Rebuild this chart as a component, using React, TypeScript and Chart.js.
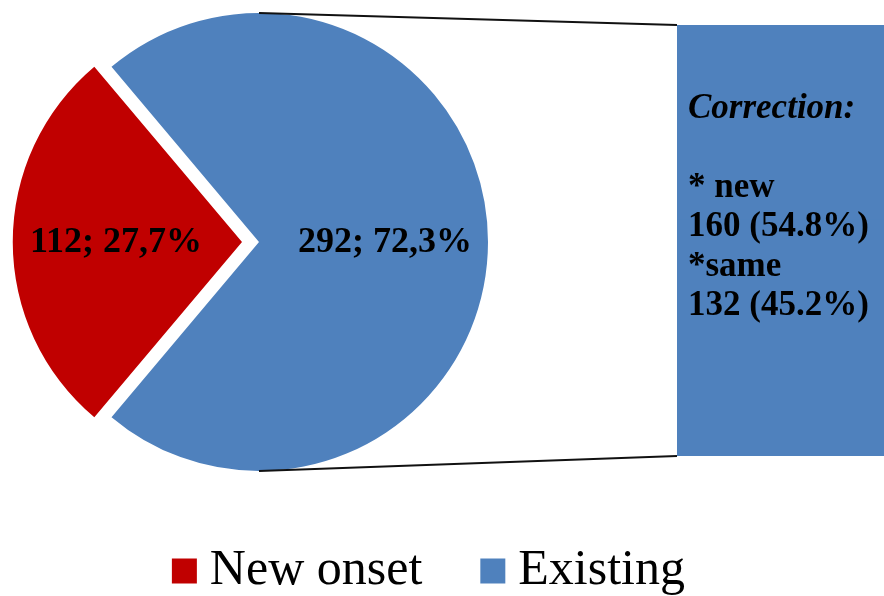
import React, { useEffect, useRef } from 'react';
import { Chart, registerables } from 'chart.js';

Chart.register(...registerables);

// ---- data ----
const categories = ['New onset', 'Existing'];
const counts = [112, 292];
const sliceColors = ['#C00000', '#4F81BD'];
const sliceOffsets = [68, 0];

const correctionTitle = 'Correction:';
const correctionLabels = ['* new', '*same'];
const correctionCounts = [160, 132];

const FONT = "'Liberation Serif', 'Times New Roman', Times, serif";

const total = counts.reduce((a, b) => a + b, 0);
const correctionTotal = correctionCounts.reduce((a, b) => a + b, 0);
const pct = (v: number, t: number, sep: string) => (v / t * 100).toFixed(1).replace('.', sep);

export default function App() {
  const pieRef = useRef<HTMLCanvasElement>(null);
  const barRef = useRef<HTMLCanvasElement>(null);

  useEffect(() => {
    const barTextPlugin = {
      id: 'barText',
      afterDatasetsDraw(chart: any) {
        const { ctx, chartArea } = chart;
        const x = chartArea.left + 11;
        let y = chartArea.top + 93;
        const lh = 39.4;
        const lines: { text: string; italic?: boolean }[] = [
          { text: correctionTitle, italic: true },
          { text: '' },
        ];
        correctionLabels.forEach((l, i) => {
          lines.push({ text: l });
          lines.push({ text: `${correctionCounts[i]} (${pct(correctionCounts[i], correctionTotal, '.')}%)` });
        });
        ctx.save();
        ctx.fillStyle = '#000';
        ctx.textAlign = 'left';
        ctx.textBaseline = 'alphabetic';
        lines.forEach((ln) => {
          ctx.font = `${ln.italic ? 'italic ' : ''}bold 35px ${FONT}`;
          if (ln.text) ctx.fillText(ln.text, x, y);
          y += lh;
        });
        ctx.restore();
      },
    };

    const barChart = new Chart(barRef.current as HTMLCanvasElement, {
      type: 'bar',
      data: {
        labels: [categories[1]],
        datasets: correctionLabels.map((l, i) => ({
          label: l,
          data: [correctionCounts[i]],
          backgroundColor: sliceColors[1],
          borderWidth: 0,
          barPercentage: 1,
          categoryPercentage: 1,
        })),
      },
      options: {
        responsive: false,
        animation: false,
        events: [],
        layout: { padding: 0 },
        plugins: { legend: { display: false }, tooltip: { enabled: false } },
        scales: {
          x: { stacked: true, display: false },
          y: { stacked: true, display: false, min: 0, max: correctionTotal },
        },
      },
      plugins: [barTextPlugin],
    } as any);

    const pieLabelPlugin = {
      id: 'pieLabels',
      afterDatasetsDraw(chart: any) {
        const ctx = chart.ctx;
        const meta = chart.getDatasetMeta(0);
        ctx.save();
        ctx.font = `bold 36px ${FONT}`;
        ctx.fillStyle = '#000';
        ctx.textAlign = 'center';
        ctx.textBaseline = 'middle';
        meta.data.forEach((arc: any, i: number) => {
          const mid = (arc.startAngle + arc.endAngle) / 2;
          const r = (arc.options.offset || 0) / 4 + 0.55 * arc.outerRadius;
          ctx.fillText(
            `${counts[i]}; ${pct(counts[i], total, ',')}%`,
            arc.x + Math.cos(mid) * r,
            arc.y + Math.sin(mid) * r + 1
          );
        });
        ctx.restore();
      },
    };

    const connectorPlugin = {
      id: 'connectors',
      afterDatasetsDraw(chart: any) {
        const ctx = chart.ctx;
        const arc: any = chart.getDatasetMeta(0).data[1];
        const pr = chart.canvas.getBoundingClientRect();
        const br = barChart.canvas.getBoundingClientRect();
        const dx = br.left - pr.left;
        const dy = br.top - pr.top;
        const topEl: any = barChart.getDatasetMeta(correctionCounts.length - 1).data[0];
        const botEl: any = barChart.getDatasetMeta(0).data[0];
        const left = topEl.x - topEl.width / 2 + dx;
        const top = topEl.y + dy;
        const bottom = botEl.base + dy;
        ctx.save();
        ctx.strokeStyle = '#111';
        ctx.lineWidth = 1.8;
        ctx.beginPath();
        ctx.moveTo(arc.x, arc.y - arc.outerRadius);
        ctx.lineTo(left, top);
        ctx.moveTo(arc.x, arc.y + arc.outerRadius);
        ctx.lineTo(left, bottom);
        ctx.stroke();
        ctx.restore();
      },
    };

    const pieChart = new Chart(pieRef.current as HTMLCanvasElement, {
      type: 'pie',
      data: {
        labels: categories,
        datasets: [
          {
            data: counts,
            backgroundColor: sliceColors,
            offset: sliceOffsets,
            borderWidth: 0,
            hoverOffset: 0,
          },
        ],
      },
      options: {
        responsive: false,
        animation: false,
        events: [],
        rotation: 270 - (counts[0] / total) * 180,
        radius: 229,
        layout: { padding: 0 },
        plugins: {
          tooltip: { enabled: false },
          legend: {
            position: 'bottom',
            align: 'end',
            labels: {
              usePointStyle: true,
              pointStyle: 'rect',
              boxWidth: 1,
              boxHeight: 25,
              padding: 70,
              color: '#000',
              font: { family: FONT, size: 50 },
            },
          },
        },
      },
      plugins: [pieLabelPlugin, connectorPlugin],
    } as any);

    return () => {
      pieChart.destroy();
      barChart.destroy();
    };
  }, []);

  return (
    <div
      style={{
        position: 'fixed',
        left: 0,
        top: 0,
        width: 884,
        height: 596,
        overflow: 'hidden',
        background: '#fff',
      }}
    >
      <canvas
        ref={pieRef}
        width={992}
        height={598}
        style={{ position: 'absolute', left: -237, top: 8 }}
      />
      <canvas
        ref={barRef}
        width={207}
        height={431}
        style={{ position: 'absolute', left: 677, top: 25 }}
      />
    </div>
  );
}
